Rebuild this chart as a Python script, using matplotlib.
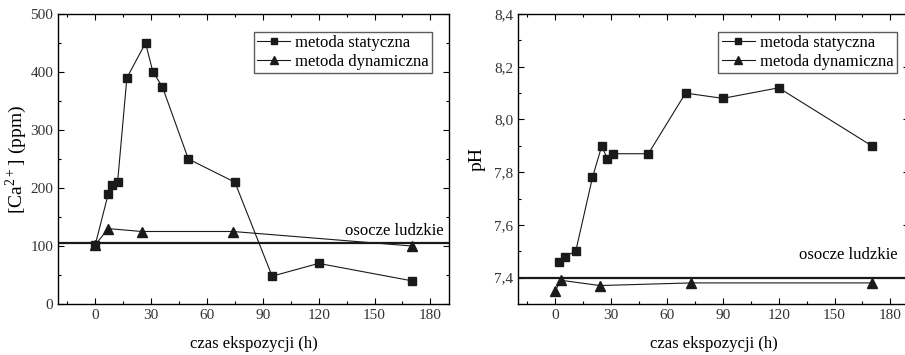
import matplotlib
matplotlib.use('Agg')
import matplotlib.pyplot as plt
from matplotlib.ticker import MultipleLocator, FuncFormatter

plt.rcParams['font.family'] = ['Liberation Serif', 'DejaVu Serif']
plt.rcParams['mathtext.fontset'] = 'custom'
plt.rcParams['mathtext.rm'] = 'Liberation Serif'

# wapń
ca_stat_t = [0, 7, 9, 12, 17, 27, 31, 36, 50, 75, 95, 120, 170]
ca_stat = [102, 190, 205, 210, 390, 450, 400, 375, 250, 210, 48, 70, 40]
ca_dyn_t = [0, 7, 25, 74, 170]
ca_dyn = [102, 130, 125, 125, 100]
ca_plasma = 105

# pH
ph_stat_t = [2, 5, 11, 20, 25, 28, 31, 50, 70, 90, 120, 170]
ph_stat = [7.46, 7.48, 7.50, 7.78, 7.90, 7.85, 7.87, 7.87, 8.10, 8.08, 8.12, 7.90]
ph_dyn_t = [0, 3, 24, 73, 170]
ph_dyn = [7.35, 7.39, 7.37, 7.38, 7.38]
ph_plasma = 7.40

fig = plt.figure(figsize=(9.05, 3.55), dpi=100)
ax1 = fig.add_axes([58 / 905, 51 / 355, 391 / 905, 290 / 355])
ax2 = fig.add_axes([518 / 905, 51 / 355, 391 / 905, 290 / 355])


def style(ax):
    ax.set_xlim(-20, 190)
    ax.xaxis.set_major_locator(MultipleLocator(30))
    ax.xaxis.set_minor_locator(MultipleLocator(15))
    ax.tick_params(which='both', direction='in', top=True, right=True, labelsize=11,
                   labelcolor='#333333')
    ax.tick_params(which='major', length=4, width=0.8)
    ax.tick_params(which='minor', length=2.5, width=0.8)
    for s in ax.spines.values():
        s.set_linewidth(1.0)
    ax.set_xlabel('czas ekspozycji (h)', fontsize=12, labelpad=10)


def draw(ax, st, sv, dt, dv, plasma, anchor_x):
    ax.plot(st, sv, '-s', color='#1a1a1a', lw=0.8, ms=5.8, label='metoda statyczna')
    ax.plot(dt, dv, '-^', color='#1a1a1a', lw=0.8, ms=6.8, label='metoda dynamiczna')
    ax.axhline(plasma, color='#1a1a1a', lw=1.6)
    leg = ax.legend(loc='upper right', bbox_to_anchor=(anchor_x, 0.938), fontsize=12,
                    frameon=True, fancybox=False, edgecolor='#333333',
                    handlelength=2.0, handletextpad=0.3, borderpad=0.2,
                    labelspacing=0.15, borderaxespad=0, markerscale=0.8)
    leg.get_frame().set_linewidth(1.0)


draw(ax1, ca_stat_t, ca_stat, ca_dyn_t, ca_dyn, ca_plasma, 0.957)
style(ax1)
ax1.set_ylim(0, 500)
ax1.yaxis.set_major_locator(MultipleLocator(100))
ax1.yaxis.set_minor_locator(MultipleLocator(50))
ax1.set_ylabel('[Ca$^{2+}$] (ppm)', fontsize=14, labelpad=1)
ax1.text(187, 112, 'osocze ludzkie', ha='right', va='bottom', fontsize=12)

draw(ax2, ph_stat_t, ph_stat, ph_dyn_t, ph_dyn, ph_plasma, 0.969)
style(ax2)
ax2.set_ylim(7.3, 8.4)
ax2.yaxis.set_major_locator(MultipleLocator(0.2))
ax2.yaxis.set_minor_locator(MultipleLocator(0.1))
ax2.yaxis.set_major_formatter(FuncFormatter(lambda v, p: f'{v:.1f}'.replace('.', ',')))
ax2.set_ylabel('pH', fontsize=14, labelpad=6)
ax2.text(0.972, 0.14, 'osocze ludzkie', transform=ax2.transAxes, ha='right',
         va='bottom', fontsize=12)

fig.savefig('out.png', dpi=100)
